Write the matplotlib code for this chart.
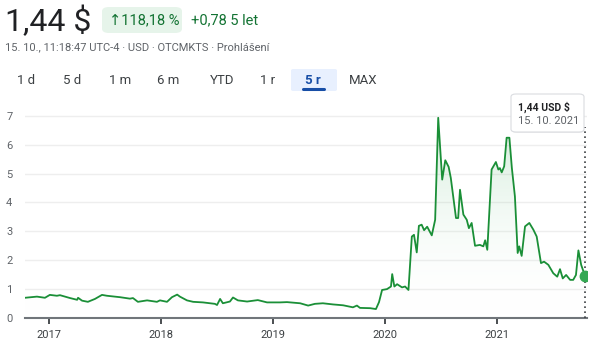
import numpy as np
import pandas as pd
import matplotlib.pyplot as plt
import matplotlib.dates as mdates
from matplotlib.colors import LinearSegmentedColormap
from matplotlib.patches import FancyBboxPatch

plt.rcParams['font.family'] = ['Roboto', 'DejaVu Sans']

# price history (USD)
dates = [
    "2016-10-15", "2016-11-23", "2016-12-19", "2017-01-04", "2017-01-27", "2017-02-06",
    "2017-03-11", "2017-04-03", "2017-04-06", "2017-04-19", "2017-05-08", "2017-05-31",
    "2017-06-23", "2017-07-09", "2017-08-21", "2017-09-22", "2017-10-02", "2017-10-18",
    "2017-11-17", "2017-12-19", "2017-12-29", "2018-01-21", "2018-02-06", "2018-02-23",
    "2018-03-04", "2018-03-27", "2018-04-16", "2018-05-18", "2018-06-26", "2018-07-03",
    "2018-07-13", "2018-07-22", "2018-08-14", "2018-08-24", "2018-09-09", "2018-10-09",
    "2018-11-13", "2018-12-13", "2019-01-01", "2019-01-24", "2019-02-16", "2019-03-31",
    "2019-04-26", "2019-05-18", "2019-06-13", "2019-07-16", "2019-08-18", "2019-09-19",
    "2019-10-02", "2019-10-12", "2019-11-14", "2019-12-03", "2019-12-13", "2019-12-23",
    "2020-01-08", "2020-01-21", "2020-01-25", "2020-02-01", "2020-02-10", "2020-02-26",
    "2020-03-07", "2020-03-18", "2020-03-29", "2020-04-05", "2020-04-14", "2020-04-21",
    "2020-04-30", "2020-05-08", "2020-05-18", "2020-06-02", "2020-06-13", "2020-06-23",
    "2020-07-06", "2020-07-16", "2020-07-27", "2020-08-03", "2020-08-20", "2020-08-27",
    "2020-09-02", "2020-09-13", "2020-09-24", "2020-10-01", "2020-10-10", "2020-10-21",
    "2020-11-06", "2020-11-17", "2020-11-23", "2020-11-30", "2020-12-14", "2020-12-28",
    "2021-01-05", "2021-01-10", "2021-01-16", "2021-01-24", "2021-02-01", "2021-02-10",
    "2021-02-18", "2021-02-28", "2021-03-09", "2021-03-14", "2021-03-22", "2021-04-02",
    "2021-04-16", "2021-04-29", "2021-05-10", "2021-05-24", "2021-06-03", "2021-06-17",
    "2021-07-03", "2021-07-16", "2021-07-25", "2021-08-03", "2021-08-14", "2021-08-27",
    "2021-09-06", "2021-09-15", "2021-09-23", "2021-10-02", "2021-10-15",
]
prices = [
    0.70, 0.74, 0.70, 0.80, 0.77, 0.79,
    0.69, 0.63, 0.70, 0.60, 0.56, 0.66,
    0.80, 0.77, 0.72, 0.67, 0.69, 0.56,
    0.61, 0.56, 0.61, 0.56, 0.72, 0.81,
    0.74, 0.61, 0.56, 0.54, 0.49, 0.45,
    0.66, 0.51, 0.57, 0.71, 0.61, 0.57,
    0.62, 0.54, 0.54, 0.54, 0.55, 0.51,
    0.43, 0.49, 0.51, 0.47, 0.44, 0.37,
    0.43, 0.35, 0.34, 0.31, 0.55, 0.97,
    1.00, 1.09, 1.52, 1.09, 1.17, 1.06,
    1.09, 0.97, 2.82, 2.88, 2.27, 3.19,
    3.23, 3.04, 3.16, 2.86, 3.40, 6.93,
    4.79, 5.46, 5.23, 4.85, 3.46, 3.46,
    4.44, 3.58, 3.40, 3.11, 3.29, 2.50,
    2.53, 2.48, 2.69, 2.36, 5.14, 5.40,
    5.14, 5.19, 5.04, 5.25, 6.24, 6.24,
    5.20, 4.21, 2.25, 2.48, 2.15, 3.17,
    3.29, 3.06, 2.82, 1.90, 1.95, 1.84,
    1.55, 1.43, 1.69, 1.37, 1.49, 1.32,
    1.32, 1.49, 2.34, 1.84, 1.44,
]
yticks = [0, 1, 2, 3, 4, 5, 6, 7]
tabs = ["1 d", "5 d", "1 m", "6 m", "YTD", "1 r", "5 r", "MAX"]
tab_x = [26, 72, 120, 168, 222, 268, 313, 363]

dt = pd.to_datetime(dates)
W, H = 600, 356
fig = plt.figure(figsize=(6, 3.56), dpi=100)

def fx(px):
    return px / W

def fy(py):
    return 1 - py / H

ax = fig.add_axes([fx(25), fy(318), fx(562), 208 / H])
green = '#1a8f37'
ax.plot(dt, prices, color=green, lw=1.3, zorder=3, solid_joinstyle='round')

# gradient fill under the line
ymax = 7.2
x0 = mdates.date2num(pd.Timestamp("2016-10-15"))
x1 = mdates.date2num(pd.Timestamp("2021-10-21"))
poly = ax.fill_between(dt, prices, 0, facecolor='none', edgecolor='none')
cmap = LinearSegmentedColormap.from_list('g', [(1, 1, 1, 0), (0.20, 0.66, 0.33, 0.24)])
grad = np.linspace(0, 1, 256).reshape(-1, 1)
img = ax.imshow(grad, extent=[x0, x1, 0, ymax], origin='lower', aspect='auto',
                cmap=cmap, zorder=2)
img.set_clip_path(poly.get_paths()[0], transform=ax.transData)

ax.plot(dt[-1], prices[-1], 'o', color='#34a853', ms=7.5, zorder=5)
ax.plot([dt[-1], dt[-1]], [0, 6.6], color='#3c4043', lw=1.2, ls=(0, (1, 2)), zorder=4)

ax.set_xlim(x0, x1)
ax.set_ylim(0, ymax)
ax.set_yticks(yticks)
ax.yaxis.grid(True, color='#eeeeee', lw=1)
ax.set_axisbelow(True)
for s in ['top', 'right', 'left']:
    ax.spines[s].set_visible(False)
ax.spines['bottom'].set_color('#70757a')
ax.spines['bottom'].set_linewidth(1.5)
ax.xaxis.set_major_locator(mdates.YearLocator())
ax.xaxis.set_major_formatter(mdates.DateFormatter('%Y'))
ax.tick_params(axis='x', length=4, width=1.3, color='#3c4043', labelsize=8,
               labelcolor='#3c4043', pad=5)
ax.tick_params(axis='y', length=0, labelsize=8, labelcolor='#5f6368', pad=9)

# header
fig.text(fx(5), fy(21), "1,44 $", fontsize=23, color='#202124', va='center')
fig.patches.append(FancyBboxPatch((fx(102), fy(33)), fx(80), 26 / H,
                                  boxstyle='round,pad=0,rounding_size=0.012',
                                  transform=fig.transFigure, fc='#e6f4ea', ec='none'))
fig.text(fx(109), fy(20), "↑118,18 %", fontsize=10.5, color='#137333', va='center')
fig.text(fx(191), fy(20), "+0,78 5 let", fontsize=10.5, color='#137333', va='center')
fig.text(fx(5), fy(47), "15. 10., 11:18:47 UTC-4 · USD · OTCMKTS · Prohlášení",
         fontsize=8, color='#5f6368', va='center')

# range tabs
fig.patches.append(FancyBboxPatch((fx(291), fy(91)), fx(46), 22 / H,
                                  boxstyle='round,pad=0,rounding_size=0.004',
                                  transform=fig.transFigure, fc='#e8f0fe', ec='none'))
fig.add_artist(plt.Line2D([fx(303), fx(324)], [fy(89), fy(89)], color='#174ea6',
                          lw=2.2, solid_capstyle='round', transform=fig.transFigure))
for lab, px in zip(tabs, tab_x):
    sel = lab == "5 r"
    fig.text(fx(px), fy(80), lab, fontsize=9.5, ha='center', va='center',
             color='#174ea6' if sel else '#3c4043', fontweight='bold' if sel else 'normal')

# tooltip
fig.patches.append(FancyBboxPatch((fx(512), fy(133)), fx(72), 38 / H,
                                  boxstyle='round,pad=0,rounding_size=0.008',
                                  transform=fig.transFigure, fc='#e4e4e4', ec='none',
                                  alpha=0.6))
fig.patches.append(FancyBboxPatch((fx(511), fy(132)), fx(73), 38 / H,
                                  boxstyle='round,pad=0,rounding_size=0.008',
                                  transform=fig.transFigure, fc='white', ec='#dadce0',
                                  lw=0.8))
fig.text(fx(518), fy(107), "1,44 USD $", fontsize=7.5, fontweight='bold',
         color='#202124', va='center')
fig.text(fx(518), fy(121), "15. 10. 2021", fontsize=8, color='#5f6368', va='center')

fig.savefig('out.png', dpi=100)
